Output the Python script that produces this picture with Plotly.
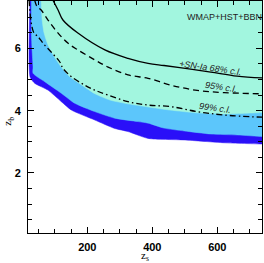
import plotly.graph_objects as go

# axis limits (data units)
X_RANGE = [17.5, 737.5]
Y_RANGE = [0.074, 7.52]

# WMAP+HST+BBN allowed region boundaries (lower edges of each band)
dark_x = [24, 24, 38, 79, 120, 151, 223, 284, 325, 387, 498, 621, 738]
dark_y = [7.55, 5.08, 4.88, 4.66, 4.29, 4.02, 3.70, 3.43, 3.33, 3.11, 3.06, 2.97, 2.93]

light_x = [28, 28, 30, 33, 33, 69, 120, 161, 223, 284, 356, 387, 436, 498, 580, 662, 738]
light_y = [7.55, 6.49, 5.95, 5.40, 5.20, 4.93, 4.56, 4.24, 3.97, 3.76, 3.65, 3.60, 3.44, 3.35, 3.25, 3.22, 3.17]

cyan_x = [58, 61, 67, 79, 101, 122, 147, 178, 224, 270, 325, 387, 454, 538, 621, 738]
cyan_y = [7.55, 6.91, 6.49, 6.11, 5.69, 5.37, 5.08, 4.86, 4.54, 4.34, 4.22, 4.12, 4.02, 3.93, 3.89, 3.94]

# SN-Ia contours
c68_x = [94, 110, 125, 171, 254, 325, 387, 436, 507, 580, 661, 738]
c68_y = [7.55, 7.23, 6.91, 6.49, 5.95, 5.68, 5.52, 5.45, 5.35, 5.24, 5.11, 5.05]

c95_x = [38, 45, 58, 79, 110, 141, 171, 223, 264, 325, 387, 457, 538, 621, 738]
c95_y = [7.55, 7.35, 7.23, 6.91, 6.49, 6.16, 5.95, 5.63, 5.40, 5.15, 5.04, 4.82, 4.65, 4.58, 4.54]

c99_x = [21, 27, 36, 48, 64, 88, 115, 125, 151, 192, 223, 264, 325, 387, 457, 538, 621, 738]
c99_y = [7.55, 6.85, 6.49, 6.38, 6.16, 5.89, 5.57, 5.36, 5.09, 4.82, 4.66, 4.50, 4.29, 4.18, 4.13, 3.97, 3.86, 3.79]

DARK = "#2a10f8"
LIGHT = "#5cc6fb"
CYAN = "#a2f6df"

fig = go.Figure()


def band(xs, ys, color):
    top = Y_RANGE[1] + 0.2
    px = list(xs) + [X_RANGE[1] + 10, X_RANGE[1] + 10, xs[0]]
    py = list(ys) + [ys[-1], top, top]
    fig.add_trace(go.Scatter(x=px, y=py, mode="lines", fill="toself",
                             fillcolor=color, line=dict(width=0.5, color=color, shape="spline", smoothing=0.6),
                             hoverinfo="skip", showlegend=False))


band(dark_x, dark_y, DARK)
band(light_x, light_y, LIGHT)
band(cyan_x, cyan_y, CYAN)

fig.add_trace(go.Scatter(x=c68_x, y=c68_y, mode="lines", line=dict(color="black", width=1.3, shape="spline"),
                         showlegend=False))
fig.add_trace(go.Scatter(x=c95_x, y=c95_y, mode="lines",
                         line=dict(color="black", width=1.3, dash="6px,4px", shape="spline"), showlegend=False))
fig.add_trace(go.Scatter(x=c99_x, y=c99_y, mode="lines",
                         line=dict(color="black", width=1.3, dash="6px,3px,1.5px,3px", shape="spline"),
                         showlegend=False))

ann_font = dict(family="Liberation Sans", size=9, color="#222")
fig.add_annotation(x=621, y=7.0, text="WMAP+HST+BBN", showarrow=False, font=ann_font)
fig.add_annotation(x=580, y=5.37, text="<i>+SN-Ia 68% c.l.</i>", showarrow=False, font=ann_font, textangle=8)
fig.add_annotation(x=610, y=4.76, text="<i>95% c.l.</i>", showarrow=False, font=ann_font, textangle=8)
fig.add_annotation(x=593, y=4.07, text="<i>99% c.l.</i>", showarrow=False, font=ann_font, textangle=8)

# axis titles
title_font = dict(family="Liberation Serif", size=11, color="black")
fig.add_annotation(xref="paper", yref="paper", x=0.5, y=-0.098, yanchor="middle",
                   text="z<sub>s</sub>", showarrow=False, font=title_font)
fig.add_annotation(xref="paper", yref="paper", x=-0.085, y=0.48, xanchor="center",
                   text="z<sub>b</sub>", showarrow=False, font=title_font, textangle=-90)

tickfont = dict(family="Liberation Sans", size=11, color="black", weight="bold")
axis_common = dict(showline=True, linecolor="black", linewidth=1, mirror="allticks",
                   ticks="inside", ticklen=6, tickwidth=1, tickcolor="black",
                   showgrid=False, zeroline=False, tickfont=tickfont, automargin=False)

fig.update_xaxes(range=X_RANGE, tickvals=[200, 400, 600], ticktext=["200", "400", "600"],
                 minor=dict(tickvals=[50, 100, 150, 250, 300, 350, 450, 500, 550, 650, 700],
                            ticks="inside", ticklen=4, tickcolor="black", tickwidth=1),
                 ticklabelstandoff=4, **axis_common)
fig.update_yaxes(range=Y_RANGE, tickvals=[2, 4, 6], ticktext=["2", "4", "6"],
                 minor=dict(tickvals=[0.5, 1, 1.5, 2.5, 3, 3.5, 4.5, 5, 5.5, 6.5, 7, 7.5],
                            ticks="inside", ticklen=4, tickcolor="black", tickwidth=1),
                 ticklabelstandoff=4, **axis_common)

fig.update_layout(width=264, height=263, margin=dict(l=28, r=2, t=1, b=30),
                  plot_bgcolor="white", paper_bgcolor="white")

fig.write_html("out.html", config={"displayModeBar": False, "staticPlot": True},
               post_script="document.body.style.margin='0px';document.body.style.overflow='hidden';")
